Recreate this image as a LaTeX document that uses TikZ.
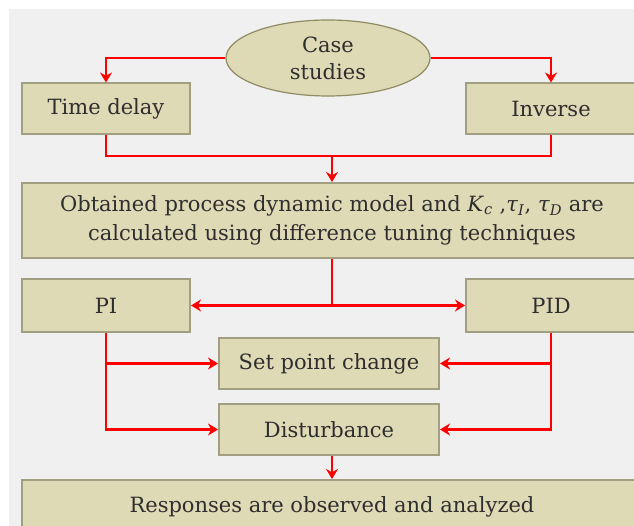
\documentclass[tikz,border=0pt]{standalone}
\usepackage{fontspec}
\setmainfont{DejaVu Serif}
\usetikzlibrary{shapes.geometric,arrows.meta}
\definecolor{boxfill}{HTML}{DFDAB6}
\definecolor{boxline}{HTML}{A19E82}
\definecolor{ovalline}{HTML}{8F8B62}
\definecolor{backgray}{HTML}{F0F0F0}
\definecolor{inkgray}{HTML}{2E2E2E}
\newcommand{\tunevar}[2]{\textit{#1}\textsubscript{\textit{#2}}}

\begin{document}
\begin{tikzpicture}[x=1pt,y=-1pt,font=\fontsize{21}{29}\selectfont,text=inkgray,
    stage/.style={draw=boxline,fill=boxfill,line width=2pt,inner sep=0pt,align=center},
    wire/.style={draw=red,line width=2.4pt},
    link/.style={wire,-{Stealth[length=10pt,width=12pt]}}]
    \useasboundingbox (0,0) rectangle (634,526);
    \fill[backgray] (9,9) rectangle (634,526);
    % cases
    \node[ellipse,draw=ovalline,fill=boxfill,line width=1.2pt,minimum width=204pt,minimum height=76pt,align=center] (cases) at (328,58) {Case\\[-2pt]studies};
    \node[stage,minimum width=168pt,minimum height=51pt] (delay) at (106,109) {Time delay};
    \node[stage,minimum width=170pt,minimum height=51pt] (inverse) at (551,109) {Inverse};
    \draw[link] (cases.west) -| (delay.north);
    \draw[link] (cases.east) -| (inverse.north);
    % model and tuning
    \node[stage,minimum width=620pt,minimum height=75pt] (model) at (332,220.5)
        {Obtained process dynamic model and \tunevar{K}{c} ,\tunevar{τ}{I}, \tunevar{τ}{D} are\\calculated using difference tuning techniques};
    \coordinate (merge) at (332,156);
    \draw[wire] (delay.south) |- (merge) -| (inverse.south);
    \draw[link] (merge) -- (model.north);
    % controllers
    \node[stage,minimum width=168pt,minimum height=53pt] (pi) at (106,305.5) {PI};
    \node[stage,minimum width=170pt,minimum height=53pt] (pid) at (551,305.5) {PID};
    \coordinate (split) at (332,305.5);
    \draw[wire] (model.south) -- (split);
    \draw[link] (split) -- (pi.east);
    \draw[link] (split) -- (pid.west);
    % tests
    \node[stage,minimum width=220pt,minimum height=51pt] (setpoint) at (329,363.5) {Set point change};
    \node[stage,minimum width=220pt,minimum height=51pt] (disturb) at (329,429.5) {Disturbance};
    \draw[link] (pi.south) |- (disturb.west);
    \draw[link] (pi.south |- setpoint.west) -- (setpoint.west);
    \draw[link] (pid.south) |- (disturb.east);
    \draw[link] (pid.south |- setpoint.east) -- (setpoint.east);
    % responses
    \node[stage,minimum width=620pt,minimum height=54pt] (responses) at (332,507) {Responses are observed and analyzed};
    \draw[link] (disturb.south -| merge) -- (responses.north);
\end{tikzpicture}
\end{document}
